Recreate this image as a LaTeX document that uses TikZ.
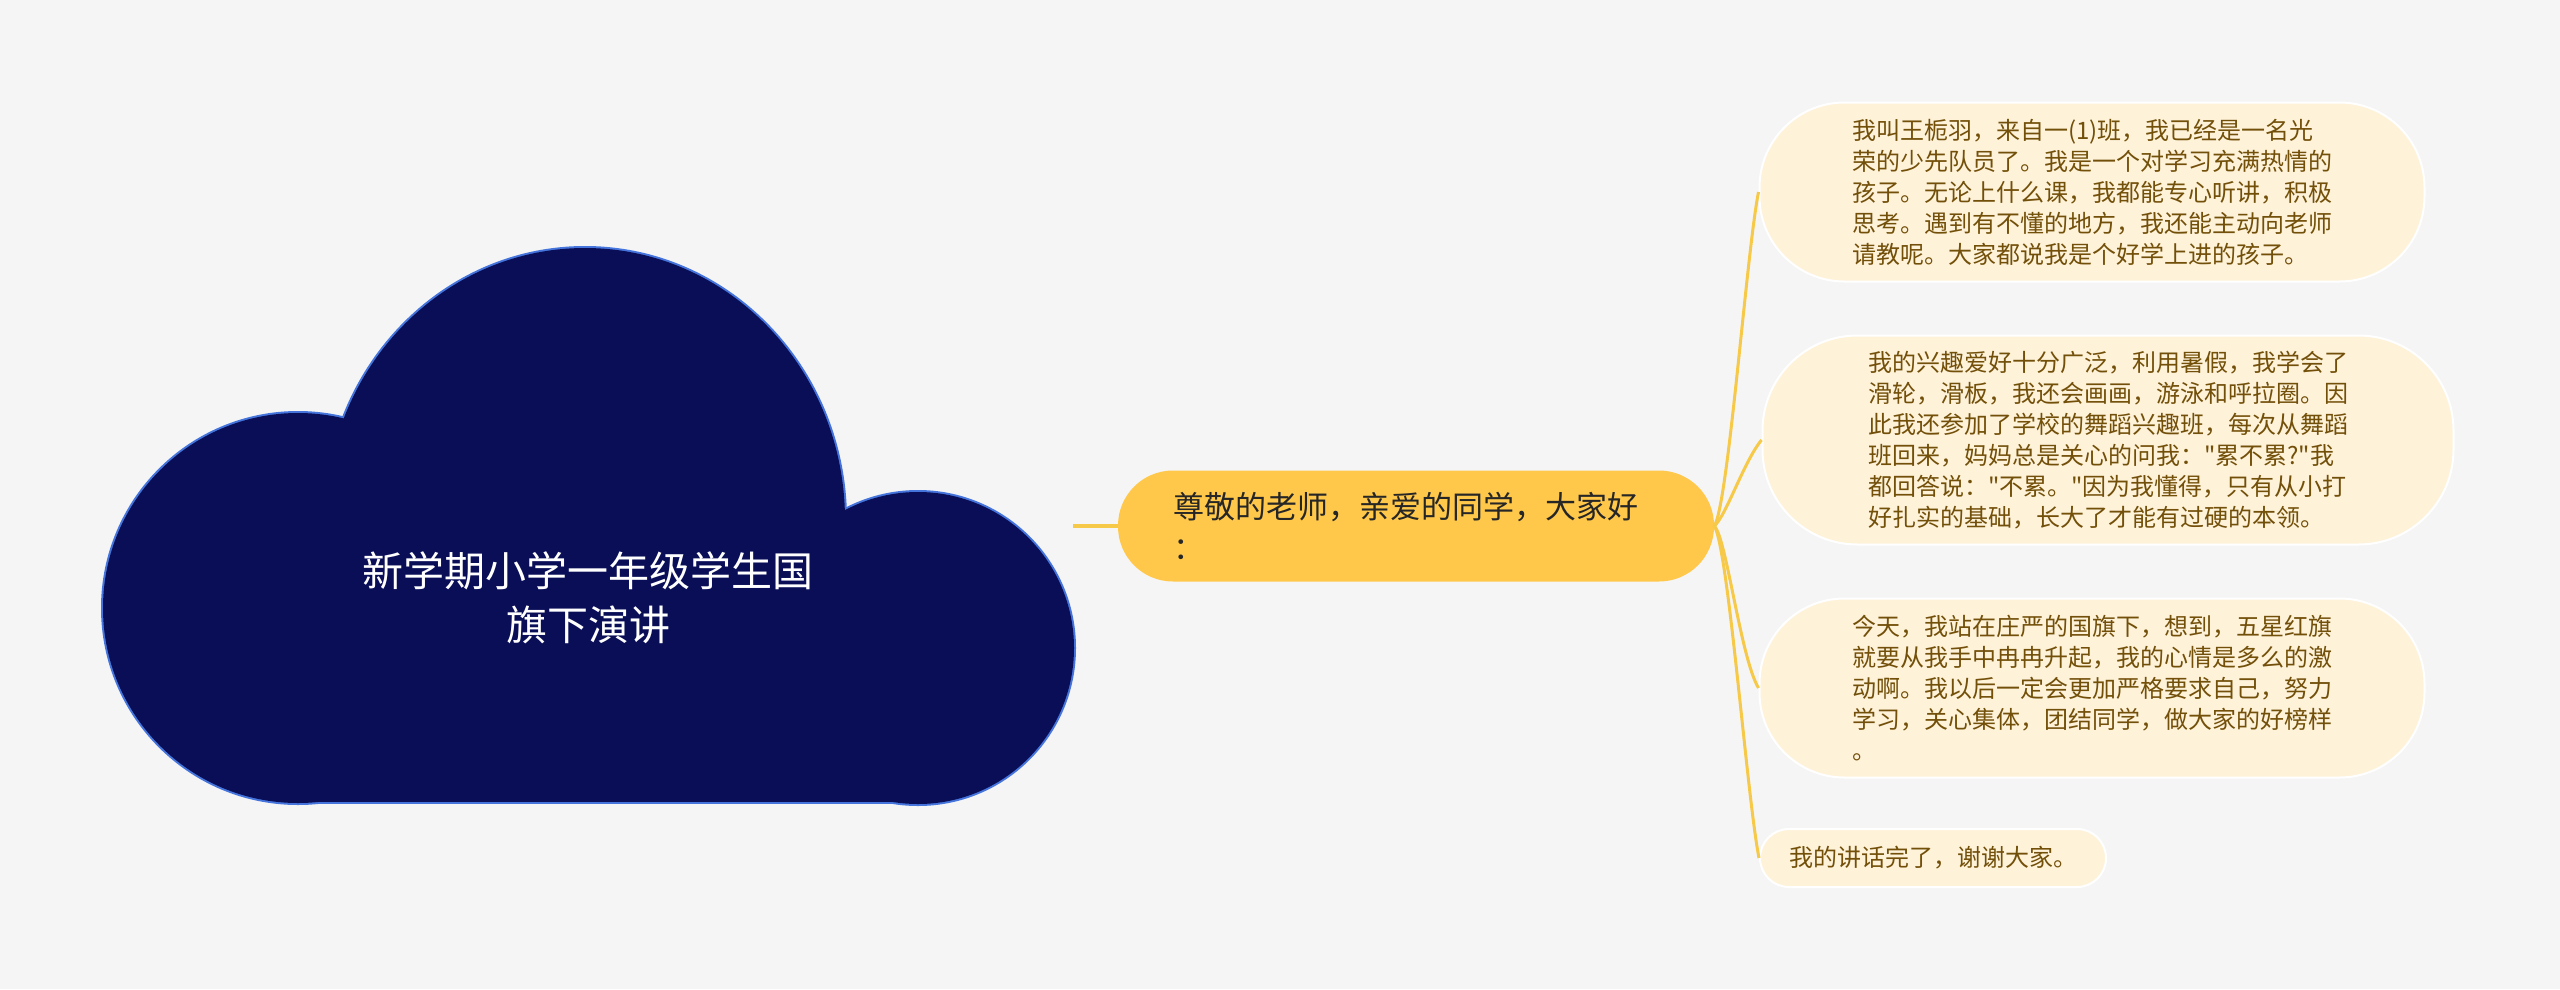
\documentclass[tikz,border=0pt]{standalone}
\usepackage{fontspec}
\newfontfamily\cjk{Noto Sans CJK SC}
\definecolor{bg}{HTML}{F5F5F6}
\definecolor{navy}{HTML}{090E57}
\definecolor{navyedge}{HTML}{4474DC}
\definecolor{pill}{HTML}{FFC84A}
\definecolor{leafbg}{HTML}{FEF2D9}
\definecolor{leaftext}{HTML}{73500A}
\definecolor{linkc}{HTML}{F7C948}
\tikzset{
  leaf/.style={draw=white, line width=2pt, fill=leafbg, text=leaftext,
    font=\cjk\fontsize{24}{31}\selectfont, align=left, inner sep=0pt},
  mainnode/.style={fill=pill, draw=none, text=black!85, rounded corners=55pt,
    font=\cjk\fontsize{31}{41}\selectfont, align=left, inner sep=0pt,
    minimum width=596pt, minimum height=111pt},
  titletext/.style={text=white, font=\cjk\fontsize{41}{54}\selectfont, align=center},
  link/.style={draw=linkc, line width=3pt},
  cloudedge/.style={draw=navyedge, line width=4pt},
}
\begin{document}
\begin{tikzpicture}[x=1pt,y=-1pt]
\useasboundingbox (0,0) rectangle (2560,989);
\fill[bg] (0,0) rectangle (2560,989);
% cloud outline (union)
\draw[cloudedge] (298,608) circle[radius=195];
\draw[cloudedge] (585,520) ellipse[x radius=260, y radius=272];
\draw[cloudedge] (918,648) circle[radius=156];
\draw[cloudedge] (298,608) rectangle (918,802);
\fill[navy] (298,608) circle[radius=195];
\fill[navy] (585,520) ellipse[x radius=260, y radius=272];
\fill[navy] (918,648) circle[radius=156];
\fill[navy] (298,608) rectangle (918,802);
\node[titletext] (title) at (588,598) {新学期小学一年级学生国\\旗下演讲};
% main node
\node[mainnode] (main) at (1416,526) {尊敬的老师，亲爱的同学，大家好\rule{20pt}{0pt}\\：};
\coordinate (cloudR) at (1073,526);
\draw[link, line width=4pt] (cloudR) -- (main.west);
% leaves
\node[leaf, rounded corners=85pt, minimum width=665pt, minimum height=179pt] (l1) at (2092,192)
 {我叫王栀羽，来自一(1)班，我已经是一名光\\荣的少先队员了。我是一个对学习充满热情的\\孩子。无论上什么课，我都能专心听讲，积极\\思考。遇到有不懂的地方，我还能主动向老师\\请教呢。大家都说我是个好学上进的孩子。};
\node[leaf, rounded corners=95pt, minimum width=691pt, minimum height=209pt] (l2) at (2108,440)
 {我的兴趣爱好十分广泛，利用暑假，我学会了\\滑轮，滑板，我还会画画，游泳和呼拉圈。因\\此我还参加了学校的舞蹈兴趣班，每次从舞蹈\\班回来，妈妈总是关心的问我："累不累?"我\\都回答说："不累。"因为我懂得，只有从小打\\好扎实的基础，长大了才能有过硬的本领。};
\node[leaf, rounded corners=85pt, minimum width=665pt, minimum height=179pt] (l3) at (2092,688)
 {今天，我站在庄严的国旗下，想到，五星红旗\\就要从我手中冉冉升起，我的心情是多么的激\\动啊。我以后一定会更加严格要求自己，努力\\学习，关心集体，团结同学，做大家的好榜样\\。};
\node[leaf, rounded corners=29pt, minimum width=346pt, minimum height=58pt] (l4) at (1933,858)
 {我的讲话完了，谢谢大家。};
% connectors
\draw[link] (main.east) .. controls +(14,-20) and +(-12,60) .. (l1.west);
\draw[link] (main.east) .. controls +(12,-10) and +(-18,22) .. (l2.west);
\draw[link] (main.east) .. controls +(12,10) and +(-18,-30) .. (l3.west);
\draw[link] (main.east) .. controls +(14,20) and +(-12,-60) .. (l4.west);
\end{tikzpicture}
\end{document}
